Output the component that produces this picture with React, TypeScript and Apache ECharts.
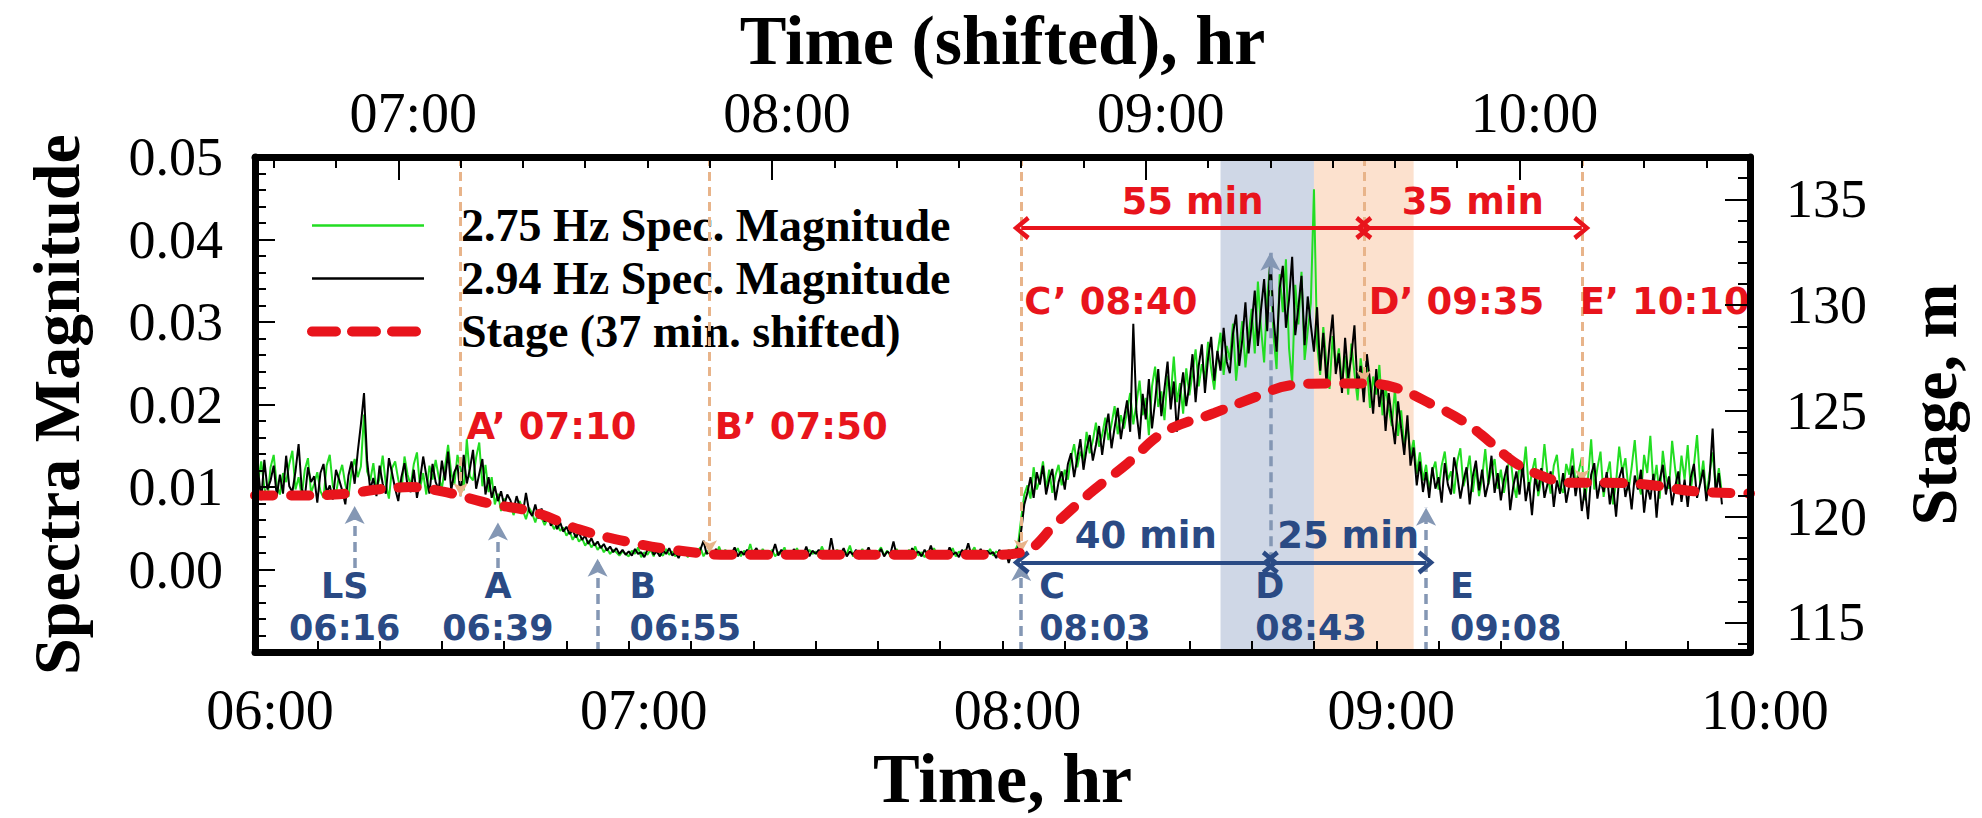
import React, { useEffect, useRef } from 'react';
import * as echarts from 'echarts';

const SERIF = '"Liberation Serif", "Times New Roman", serif';
const SANS = '"DejaVu Sans", "Open Sans", sans-serif';

// Readings are every 30 s starting at 06:00
const SAMPLE_STEP_MIN = 0.5;

// Spectral magnitude of the 2.94 Hz band
const spec294Hz = [
  0.0058, 0.0121, 0.0084, 0.0133, 0.0097, 0.0108, 0.0126, 0.0089, 0.0115, 0.0092, 0.0138, 0.0101, 0.0094, 0.0119, 0.0152, 0.0098, 0.0087, 0.0124, 0.0106, 0.0113,
  0.0081, 0.0117, 0.0128, 0.0093, 0.0102, 0.0085, 0.0121, 0.0109, 0.0096, 0.0079, 0.0114, 0.0131, 0.0104, 0.0143, 0.0176, 0.0214, 0.0132, 0.0097, 0.0111, 0.0089,
  0.0126, 0.0104, 0.0092, 0.0135, 0.0117, 0.0098, 0.0083, 0.0112, 0.0129, 0.0101, 0.0094, 0.0121, 0.0087, 0.0109, 0.0137, 0.0114, 0.0092, 0.0128, 0.0106, 0.0097,
  0.0132, 0.0108, 0.0143, 0.0096, 0.0118, 0.0127, 0.0089, 0.0139, 0.0104, 0.0122, 0.0145, 0.0098, 0.0116, 0.0134, 0.0091, 0.0112, 0.0087, 0.0101, 0.0083, 0.0095,
  0.0078, 0.0091, 0.0084, 0.0072, 0.0089, 0.0076, 0.0068, 0.0093, 0.0071, 0.0065, 0.0079, 0.0062, 0.0074, 0.0058, 0.0067, 0.0053, 0.0061, 0.0049, 0.0057, 0.0046,
  0.0052, 0.0043, 0.0048, 0.0039, 0.0045, 0.0036, 0.0041, 0.0031, 0.0038, 0.0029, 0.0034, 0.0026, 0.0031, 0.0023, 0.0028, 0.0021, 0.0026, 0.0019, 0.0024, 0.0018,
  0.0022, 0.0017, 0.0025, 0.0019, 0.0021, 0.0015, 0.0024, 0.0029, 0.0018, 0.0022, 0.0016, 0.0023, 0.0019, 0.0026, 0.0017, 0.0021, 0.0014, 0.0023, 0.0019, 0.0025,
  0.0018, 0.0021, 0.0016, 0.0024, 0.0035, 0.0019, 0.0022, 0.0017, 0.0025, 0.0018, 0.0021, 0.0015, 0.0023, 0.0019, 0.0027, 0.0016, 0.0022, 0.0018, 0.0024, 0.0017,
  0.0021, 0.0026, 0.0018, 0.0023, 0.0015, 0.0022, 0.0019, 0.0031, 0.0017, 0.0024, 0.0018, 0.0021, 0.0014, 0.0025, 0.0019, 0.0022, 0.0017, 0.0028, 0.0016, 0.0023,
  0.0019, 0.0024, 0.0017, 0.0021, 0.0015, 0.0038, 0.0018, 0.0023, 0.0019, 0.0026, 0.0016, 0.0022, 0.0018, 0.0024, 0.0013, 0.0021, 0.0019, 0.0027, 0.0017, 0.0023,
  0.0018, 0.0025, 0.0016, 0.0022, 0.0019, 0.0034, 0.0017, 0.0023, 0.0018, 0.0021, 0.0015, 0.0026, 0.0019, 0.0022, 0.0016, 0.0024, 0.0018, 0.0029, 0.0017, 0.0022,
  0.0019, 0.0023, 0.0016, 0.0027, 0.0018, 0.0021, 0.0015, 0.0024, 0.0019, 0.0032, 0.0017, 0.0022, 0.0018, 0.0025, 0.0016, 0.0023, 0.0019, 0.0021, 0.0014, 0.0024,
  0.0019, 0.0022, 0.0008, 0.0021, 0.0024, 0.0026, 0.0047, 0.0079, 0.0093, 0.0112, 0.0087, 0.0118, 0.0103, 0.0126, 0.0091, 0.0109, 0.0122, 0.0084, 0.0106, 0.0119,
  0.0097, 0.0128, 0.0141, 0.0112, 0.0135, 0.0158, 0.0121, 0.0146, 0.0163, 0.0132, 0.0151, 0.0174, 0.0139, 0.0168, 0.0189, 0.0147, 0.0172, 0.0196, 0.0158, 0.0183,
  0.0205, 0.0167, 0.0298, 0.0191, 0.0158, 0.0213, 0.0182, 0.0231, 0.0171, 0.0204, 0.0243, 0.0186, 0.0219, 0.0252, 0.0194, 0.0228, 0.0167, 0.0211, 0.0239, 0.0198,
  0.0224, 0.0261, 0.0203, 0.0247, 0.0273, 0.0214, 0.0256, 0.0282, 0.0229, 0.0265, 0.0241, 0.0293, 0.0252, 0.0238, 0.0286, 0.0309, 0.0247, 0.0279, 0.0324, 0.0262,
  0.0297, 0.0338, 0.0271, 0.0315, 0.0352, 0.0289, 0.0382, 0.0306, 0.0264, 0.0341, 0.0368, 0.0293, 0.0327, 0.0379, 0.0284, 0.0318, 0.0356, 0.0272, 0.0331, 0.0296,
  0.0264, 0.0318, 0.0241, 0.0287, 0.0226, 0.0273, 0.0309, 0.0237, 0.0262, 0.0214, 0.0281, 0.0232, 0.0258, 0.0296, 0.0219, 0.0247, 0.0203, 0.0261, 0.0228, 0.0189,
  0.0243, 0.0197, 0.0226, 0.0168, 0.0214, 0.0183, 0.0152, 0.0204, 0.0171, 0.0139, 0.0187, 0.0126, 0.0148, 0.0102, 0.0131, 0.0094, 0.0118, 0.0087, 0.0124, 0.0098,
  0.0112, 0.0081, 0.0129, 0.0103, 0.0091, 0.0136, 0.0115, 0.0086, 0.0108, 0.0124, 0.0079, 0.0113, 0.0132, 0.0096, 0.0121, 0.0088, 0.0105, 0.0138, 0.0093, 0.0117,
  0.0084, 0.0109, 0.0126, 0.0072, 0.0101, 0.0119, 0.0091, 0.0128, 0.0083, 0.0106, 0.0066, 0.0112, 0.0095, 0.0123, 0.0087, 0.0104, 0.0119, 0.0076, 0.0108, 0.0092,
  0.0117, 0.0081, 0.0102, 0.0126, 0.0089, 0.0113, 0.0071, 0.0098, 0.0061, 0.0115, 0.0129, 0.0086, 0.0107, 0.0094, 0.0118, 0.0079, 0.0103, 0.0064, 0.0111, 0.0124,
  0.0088, 0.0106, 0.0073, 0.0114, 0.0097, 0.0121, 0.0069, 0.0102, 0.0085, 0.0116, 0.0063, 0.0108, 0.0127, 0.0091, 0.0113, 0.0078, 0.0101, 0.0119, 0.0082, 0.0109,
  0.0076, 0.0112, 0.0128, 0.0087, 0.0104, 0.0121, 0.0083, 0.0109, 0.0171, 0.0091, 0.0117, 0.0079,
];

// Spectral magnitude of the 2.75 Hz band
const spec275Hz = [
  0.0094, 0.0108, 0.0131, 0.0099, 0.0086, 0.0124, 0.0139, 0.0102, 0.0091, 0.0117, 0.0106, 0.0128, 0.0144, 0.0097, 0.0112, 0.0089, 0.0121, 0.0135, 0.0093, 0.0104,
  0.0118, 0.0095, 0.0087, 0.0126, 0.0139, 0.0101, 0.0092, 0.0114, 0.0127, 0.0103, 0.0088, 0.0119, 0.0134, 0.0112, 0.0125, 0.0188, 0.0119, 0.0108, 0.0129, 0.0097,
  0.0111, 0.0138, 0.0104, 0.0086, 0.0123, 0.0131, 0.0109, 0.0094, 0.0137, 0.0115, 0.0102, 0.0128, 0.0142, 0.0099, 0.0117, 0.0091, 0.0126, 0.0109, 0.0133, 0.0112,
  0.0098, 0.0124, 0.0151, 0.0117, 0.0103, 0.0139, 0.0122, 0.0096, 0.0158, 0.0113, 0.0108, 0.0136, 0.0154, 0.0101, 0.0127, 0.0094, 0.0112, 0.0079, 0.0092, 0.0071,
  0.0086, 0.0074, 0.0081, 0.0066, 0.0077, 0.0083, 0.0072, 0.0061, 0.0075, 0.0068, 0.0057, 0.0071, 0.0063, 0.0054, 0.0062, 0.0058, 0.0049, 0.0055, 0.0047, 0.0051,
  0.0041, 0.0047, 0.0036, 0.0043, 0.0034, 0.0038, 0.0029, 0.0035, 0.0027, 0.0032, 0.0024, 0.0029, 0.0021, 0.0026, 0.0019, 0.0024, 0.0021, 0.0017, 0.0022, 0.0019,
  0.0016, 0.0023, 0.0019, 0.0027, 0.0015, 0.0021, 0.0018, 0.0024, 0.0016, 0.0029, 0.0019, 0.0017, 0.0025, 0.0018, 0.0022, 0.0016, 0.0026, 0.0019, 0.0021, 0.0015,
  0.0024, 0.0018, 0.0022, 0.0027, 0.0016, 0.0023, 0.0019, 0.0021, 0.0015, 0.0028, 0.0018, 0.0024, 0.0017, 0.0021, 0.0019, 0.0026, 0.0016, 0.0023, 0.0018, 0.0031,
  0.0017, 0.0022, 0.0016, 0.0025, 0.0019, 0.0018, 0.0024, 0.0016, 0.0021, 0.0019, 0.0027, 0.0015, 0.0022, 0.0018, 0.0026, 0.0017, 0.0021, 0.0016, 0.0024, 0.0019,
  0.0022, 0.0016, 0.0028, 0.0019, 0.0023, 0.0017, 0.0021, 0.0024, 0.0015, 0.0022, 0.0019, 0.0029, 0.0016, 0.0021, 0.0018, 0.0025, 0.0017, 0.0022, 0.0019, 0.0016,
  0.0021, 0.0027, 0.0017, 0.0023, 0.0016, 0.0019, 0.0025, 0.0018, 0.0022, 0.0016, 0.0024, 0.0019, 0.0028, 0.0017, 0.0021, 0.0015, 0.0023, 0.0019, 0.0026, 0.0018,
  0.0023, 0.0017, 0.0021, 0.0018, 0.0026, 0.0016, 0.0022, 0.0019, 0.0024, 0.0017, 0.0021, 0.0027, 0.0016, 0.0022, 0.0019, 0.0018, 0.0025, 0.0017, 0.0022, 0.0019,
  0.0021, 0.0017, 0.0024, 0.0019, 0.0023, 0.0031, 0.0062, 0.0091, 0.0102, 0.0086, 0.0124, 0.0097, 0.0109, 0.0131, 0.0098, 0.0121, 0.0093, 0.0114, 0.0127, 0.0102,
  0.0121, 0.0109, 0.0136, 0.0152, 0.0124, 0.0143, 0.0132, 0.0167, 0.0141, 0.0156, 0.0178, 0.0149, 0.0163, 0.0184, 0.0157, 0.0176, 0.0198, 0.0164, 0.0187, 0.0171,
  0.0192, 0.0214, 0.0176, 0.0201, 0.0229, 0.0187, 0.0208, 0.0163, 0.0222, 0.0246, 0.0197, 0.0216, 0.0181, 0.0235, 0.0209, 0.0258, 0.0203, 0.0226, 0.0189, 0.0244,
  0.0211, 0.0238, 0.0267, 0.0222, 0.0249, 0.0231, 0.0276, 0.0243, 0.0218, 0.0262, 0.0287, 0.0236, 0.0271, 0.0254, 0.0298, 0.0229, 0.0268, 0.0301, 0.0245, 0.0283,
  0.0316, 0.0262, 0.0349, 0.0293, 0.0251, 0.0332, 0.0371, 0.0284, 0.0243, 0.0358, 0.0312, 0.0376, 0.0268, 0.0226, 0.0345, 0.0297, 0.0361, 0.0254, 0.0289, 0.0323,
  0.0461, 0.0273, 0.0236, 0.0294, 0.0251, 0.0219, 0.0283, 0.0246, 0.0268, 0.0227, 0.0259, 0.0212, 0.0274, 0.0238, 0.0205, 0.0256, 0.0223, 0.0247, 0.0196, 0.0234,
  0.0212, 0.0248, 0.0187, 0.0221, 0.0195, 0.0174, 0.0219, 0.0162, 0.0193, 0.0148, 0.0176, 0.0138, 0.0157, 0.0116, 0.0142, 0.0108, 0.0127, 0.0096, 0.0119, 0.0131,
  0.0097, 0.0126, 0.0143, 0.0108, 0.0119, 0.0092, 0.0131, 0.0147, 0.0101, 0.0116, 0.0138, 0.0094, 0.0124, 0.0089, 0.0112, 0.0146, 0.0103, 0.0121, 0.0134, 0.0098,
  0.0121, 0.0093, 0.0117, 0.0141, 0.0104, 0.0087, 0.0128, 0.0112, 0.0149, 0.0096, 0.0118, 0.0135, 0.0089, 0.0109, 0.0152, 0.0114, 0.0092, 0.0126, 0.0139, 0.0101,
  0.0093, 0.0128, 0.0115, 0.0147, 0.0102, 0.0119, 0.0136, 0.0084, 0.0111, 0.0158, 0.0097, 0.0123, 0.0143, 0.0088, 0.0114, 0.0131, 0.0079, 0.0106, 0.0149, 0.0118,
  0.0135, 0.0096, 0.0124, 0.0157, 0.0108, 0.0091, 0.0139, 0.0117, 0.0162, 0.0101, 0.0127, 0.0086, 0.0144, 0.0113, 0.0098, 0.0156, 0.0121, 0.0094, 0.0138, 0.0109,
  0.0151, 0.0097, 0.0126, 0.0163, 0.0104, 0.0132, 0.0089, 0.0117, 0.0142, 0.0098, 0.0123, 0.0091,
];

// River stage (m), shifted 37 min onto the lower time axis (minutes after 06:00)
const stageMinutes = [
  0, 8, 15, 20, 25, 30, 34, 38, 45, 52,
  60, 68, 76, 90, 105, 118, 123, 129, 134, 140,
  146, 154, 161, 166, 172, 178, 183, 189, 194, 198,
  202, 206, 211, 217, 224, 231, 240,
];
const stageLevels = [
  121.0, 121.0, 121.1, 121.3, 121.4, 121.2, 120.9, 120.6, 120.2, 119.4,
  118.8, 118.4, 118.2, 118.2, 118.2, 118.2, 118.3, 119.8, 121.1, 122.5,
  124.0, 124.9, 125.7, 126.2, 126.3, 126.3, 126.1, 125.3, 124.5, 123.6,
  122.6, 122.0, 121.6, 121.6, 121.5, 121.2, 121.1,
];

const STAGE_SHIFT_MIN = 37;

// Tick labels
const bottomHours = ['06:00', '07:00', '08:00', '09:00', '10:00'];
const topHours = ['07:00', '08:00', '09:00', '10:00'];
const stageTickLabels = [115, 120, 125, 130, 135];

// Seismic events on the lower time axis
const sourceEvents = [
  { tag: 'LS', clock: '06:16' },
  { tag: 'A', clock: '06:39' },
  { tag: 'B', clock: '06:55' },
  { tag: 'C', clock: '08:03' },
  { tag: 'D', clock: '08:43' },
  { tag: 'E', clock: '09:08' },
];
// Matching stage events on the upper (shifted) time axis
const shiftedEvents = [
  { tag: 'A’', clock: '07:10' },
  { tag: 'B’', clock: '07:50' },
  { tag: 'C’', clock: '08:40' },
  { tag: 'D’', clock: '09:35' },
  { tag: 'E’', clock: '10:10' },
];
const sourceSpans = [['C', 'D'], ['D', 'E']];
const shiftedSpans = [['C’', 'D’'], ['D’', 'E’']];

// Highlighted windows on the lower time axis
const bandClocks = [['08:35', '08:50'], ['08:50', '09:06']];

// ---- layout / styling ----
const BAND_COLORS = ['#cfd7e6', '#fce1ce'];
const RED = '#e8141c';
const NAVY = '#2a4a84';
const STEEL = '#8497b4';
const TAN = '#e8b48a';
const GREEN = '#22dd22';
const AXIS_MIN = -0.01;
const AXIS_MAX = 0.05;
const STAGE_MIN = 113.6;
const STAGE_MAX = 137;

const sourceLayout: Record<string, { from: number; to: number; align: string; dx: number }> = {
  LS: { from: 0.0002, to: 0.0077, align: 'center', dx: -10 },
  A: { from: 0.0002, to: 0.0057, align: 'center', dx: 0 },
  B: { from: AXIS_MIN, to: 0.0013, align: 'left', dx: 32 },
  C: { from: AXIS_MIN, to: 0.0008, align: 'left', dx: 18 },
  D: { from: 0.0009, to: 0.0384, align: 'left', dx: -15 },
  E: { from: AXIS_MIN, to: 0.0075, align: 'left', dx: 24 },
};
const shiftedLayout: Record<string, { y: number; dx: number }> = {
  'A’': { y: 0.0174, dx: 6 },
  'B’': { y: 0.0174, dx: 5 },
  'C’': { y: 0.0325, dx: 3 },
  'D’': { y: 0.0325, dx: 5 },
  'E’': { y: 0.0325, dx: -2 },
};
const SOURCE_LABEL_Y = -0.0045;
const SOURCE_SPAN_Y = 0.00087;
const SHIFTED_SPAN_Y = 0.0414;

const CHEVRON = 'path://M50,0L100,62L84,74L50,30L16,74L0,62Z';

const toMin = (clock: string) => {
  const [h, m] = clock.split(':').map(Number);
  return h * 60 + m - 360;
};
const fmtClock = (m: number) => {
  const total = Math.round(m) + 360;
  const h = Math.floor(total / 60);
  const mm = total % 60;
  return `${String(h).padStart(2, '0')}:${String(mm).padStart(2, '0')}`;
};
const stageAt = (t: number) => {
  for (let i = 1; i < stageMinutes.length; i++) {
    if (t <= stageMinutes[i]) {
      const t0 = stageMinutes[i - 1];
      const t1 = stageMinutes[i];
      const f = (t - t0) / (t1 - t0);
      return stageLevels[i - 1] + f * (stageLevels[i] - stageLevels[i - 1]);
    }
  }
  return stageLevels[stageLevels.length - 1];
};

const sourceMin = (tag: string) => toMin(sourceEvents.find((e) => e.tag === tag)!.clock);
const shiftedMin = (tag: string) => toMin(shiftedEvents.find((e) => e.tag === tag)!.clock);

const range = (a: number, b: number, step: number) => {
  const out: number[] = [];
  for (let v = a; v <= b + 1e-9; v += step) out.push(v);
  return out;
};

const noteFont = { fontFamily: SANS, fontWeight: 'bold' as const, fontSize: 37, opacity: 1 };

function buildOption() {
  const hourTop = topHours.map((c) => toMin(c));

  const bands = bandClocks.map(([a, b], i) => [
    { xAxis: toMin(a), itemStyle: { color: BAND_COLORS[i] } },
    { xAxis: toMin(b) },
  ]);

  // dashed tan drop lines from the top frame down to the stage curve
  const dropLines = shiftedEvents.map((e) => {
    const t = toMin(e.clock) - STAGE_SHIFT_MIN;
    return [
      { coord: [t, STAGE_MAX], symbol: 'none', lineStyle: { color: TAN, width: 3, type: [9, 6] } },
      { coord: [t, stageAt(t)], symbol: 'arrow', symbolSize: [11, 13] },
    ];
  });

  const riseArrows = sourceEvents.map((e) => {
    const t = toMin(e.clock);
    const l = sourceLayout[e.tag];
    return [
      { coord: [t, l.from], symbol: 'none', lineStyle: { color: STEEL, width: 3.5, type: [10, 6] } },
      { coord: [t, l.to], symbol: 'arrow', symbolSize: [15, 18] },
    ];
  });

  const spanArrow = (a: number, b: number, y: number, color: string) => [
    {
      coord: [a, y],
      symbol: CHEVRON,
      symbolSize: [24, 17],
      lineStyle: { color, width: 4, type: 'solid' },
      label: {
        show: true,
        position: 'insideMiddleTop',
        distance: 8,
        formatter: `${b - a} min`,
        color,
        ...noteFont,
      },
    },
    { coord: [b, y], symbol: CHEVRON, symbolSize: [24, 17] },
  ];

  const redSpans = shiftedSpans.map(([a, b]) =>
    spanArrow(shiftedMin(a) - STAGE_SHIFT_MIN, shiftedMin(b) - STAGE_SHIFT_MIN, SHIFTED_SPAN_Y, RED),
  );
  const blueSpans = sourceSpans.map(([a, b]) => spanArrow(sourceMin(a), sourceMin(b), SOURCE_SPAN_Y, NAVY));

  const notePoints = [
    ...sourceEvents.map((e) => {
      const l = sourceLayout[e.tag];
      return {
        value: [toMin(e.clock), SOURCE_LABEL_Y],
        label: {
          show: true,
          position: 'inside',
          align: l.align,
          verticalAlign: 'middle',
          offset: [l.dx, 0],
          formatter: `${e.tag}\n${e.clock}`,
          color: NAVY,
          ...noteFont,
          fontSize: 35,
          lineHeight: 42,
        },
      };
    }),
    ...shiftedEvents.map((e) => {
      const l = shiftedLayout[e.tag];
      return {
        value: [toMin(e.clock) - STAGE_SHIFT_MIN, l.y],
        label: {
          show: true,
          position: 'inside',
          align: 'left',
          verticalAlign: 'middle',
          offset: [l.dx, 0],
          formatter: `${e.tag} ${e.clock}`,
          color: RED,
          ...noteFont,
        },
      };
    }),
  ];

  const axisLineStyle = { show: true, onZero: false, lineStyle: { color: '#000', width: 7 } };
  const tickStyle = { color: '#000', width: 2 };
  const tickLabel = { fontFamily: SERIF, color: '#000' };
  const nameStyle = { fontFamily: SERIF, fontWeight: 'bold' as const, fontSize: 70, color: '#000' };
  const hiddenSymbol = { opacity: 0 };

  return {
    animation: false,
    backgroundColor: '#fff',
    grid: { left: 255, right: 232, top: 155, bottom: 154, containLabel: false },
    legend: {
      data: [
        { name: '2.75 Hz Spec. Magnitude', itemStyle: hiddenSymbol, lineStyle: { color: GREEN, width: 2.5 } },
        { name: '2.94 Hz Spec. Magnitude', itemStyle: hiddenSymbol, lineStyle: { color: '#000', width: 2.5 } },
        {
          name: 'Stage (37 min. shifted)',
          itemStyle: hiddenSymbol,
          lineStyle: { color: RED, width: 10, type: [24, 16], cap: 'round' },
        },
      ],
      orient: 'vertical',
      left: 302,
      top: 197,
      itemWidth: 112,
      itemHeight: 12,
      itemGap: 6,
      selectedMode: false,
      textStyle: {
        fontFamily: SERIF,
        fontWeight: 'bold',
        fontSize: 46,
        lineHeight: 47,
        color: '#000',
        padding: [0, 0, 0, 32],
      },
    },
    xAxis: [
      {
        type: 'value',
        position: 'bottom',
        min: 0,
        max: 240,
        interval: 10,
        z: 10,
        axisLine: axisLineStyle,
        axisTick: { show: true, inside: true, length: 11, lineStyle: tickStyle },
        axisLabel: {
          ...tickLabel,
          fontSize: 56,
          margin: 30,
          padding: [0, 0, 0, 30],
          customValues: bottomHours.map(toMin),
          formatter: (v: number) => fmtClock(v),
        },
        splitLine: { show: false },
        name: 'Time, hr',
        nameLocation: 'middle',
        nameGap: 84,
        nameTextStyle: nameStyle,
      },
      {
        type: 'value',
        position: 'top',
        min: STAGE_SHIFT_MIN,
        max: 240 + STAGE_SHIFT_MIN,
        z: 10,
        axisLine: axisLineStyle,
        axisTick: {
          show: true,
          inside: true,
          length: 11,
          lineStyle: tickStyle,
          customValues: range(40, 270, 10),
        },
        axisLabel: {
          ...tickLabel,
          fontSize: 56,
          margin: 16,
          padding: [0, 0, 0, 30],
          customValues: hourTop,
          formatter: (v: number) => fmtClock(v),
        },
        splitLine: { show: false },
        name: 'Time (shifted), hr',
        nameLocation: 'middle',
        nameGap: 82,
        nameTextStyle: nameStyle,
      },
      {
        type: 'value',
        position: 'top',
        min: STAGE_SHIFT_MIN,
        max: 240 + STAGE_SHIFT_MIN,
        z: 10,
        axisLine: { show: false, onZero: false },
        axisTick: { show: true, inside: true, length: 23, lineStyle: tickStyle, customValues: hourTop },
        axisLabel: { show: false },
        splitLine: { show: false },
      },
    ],
    yAxis: [
      {
        type: 'value',
        position: 'left',
        min: AXIS_MIN,
        max: AXIS_MAX,
        interval: 0.01,
        z: 10,
        axisLine: axisLineStyle,
        axisTick: { show: true, inside: true, length: 20, lineStyle: tickStyle },
        minorTick: { show: true, splitNumber: 5, length: 11, lineStyle: tickStyle },
        axisLabel: {
          ...tickLabel,
          fontSize: 54,
          margin: 32,
          formatter: (v: number) => (v < -0.005 ? '' : v.toFixed(2)),
        },
        splitLine: { show: false },
        minorSplitLine: { show: false },
        name: 'Spectra Magnitude',
        nameLocation: 'middle',
        nameGap: 166,
        nameTextStyle: { ...nameStyle, fontSize: 66 },
      },
      {
        type: 'value',
        position: 'right',
        min: STAGE_MIN,
        max: STAGE_MAX,
        z: 10,
        axisLine: axisLineStyle,
        axisTick: {
          show: true,
          inside: true,
          length: 12,
          lineStyle: tickStyle,
          customValues: range(114, 136, 1),
        },
        axisLabel: { ...tickLabel, fontSize: 54, margin: 36, customValues: stageTickLabels },
        splitLine: { show: false },
        name: 'Stage, m',
        nameLocation: 'middle',
        nameGap: 150,
        nameTextStyle: { ...nameStyle, fontSize: 66 },
      },
      {
        type: 'value',
        position: 'right',
        min: STAGE_MIN,
        max: STAGE_MAX,
        z: 10,
        axisLine: { show: false, onZero: false },
        axisTick: { show: true, inside: true, length: 25, lineStyle: tickStyle, customValues: stageTickLabels },
        axisLabel: { show: false },
        splitLine: { show: false },
      },
    ],
    series: [
      {
        name: '2.75 Hz Spec. Magnitude',
        type: 'line',
        xAxisIndex: 0,
        yAxisIndex: 0,
        data: spec275Hz.map((v, i) => [i * SAMPLE_STEP_MIN, v]),
        symbol: 'none',
        z: 2,
        lineStyle: { color: GREEN, width: 2 },
        itemStyle: { color: GREEN },
        markArea: { silent: true, z: 1, data: bands },
      },
      {
        name: '2.94 Hz Spec. Magnitude',
        type: 'line',
        xAxisIndex: 0,
        yAxisIndex: 0,
        data: spec294Hz.map((v, i) => [i * SAMPLE_STEP_MIN, v]),
        symbol: 'none',
        z: 3,
        lineStyle: { color: '#000', width: 2 },
        itemStyle: { color: '#000' },
      },
      {
        name: 'Stage (37 min. shifted)',
        type: 'line',
        xAxisIndex: 0,
        yAxisIndex: 1,
        data: stageMinutes.map((t, i) => [t, stageLevels[i]]),
        smooth: 0.4,
        symbol: 'none',
        z: 5,
        lineStyle: { color: RED, width: 10, type: [18, 18], cap: 'round' },
        itemStyle: { color: RED },
        markLine: {
          silent: true,
          symbol: ['none', 'arrow'],
          label: { show: false },
          lineStyle: { color: TAN, width: 3, type: [9, 6] },
          itemStyle: { color: TAN },
          data: dropLines,
        },
      },
      {
        name: 'notes',
        type: 'scatter',
        xAxisIndex: 0,
        yAxisIndex: 0,
        symbolSize: 1,
        z: 6,
        itemStyle: { color: 'transparent', opacity: 1 },
        data: notePoints,
        markLine: {
          silent: true,
          label: { show: false },
          data: [...riseArrows, ...redSpans, ...blueSpans],
        },
      },
    ],
  };
}

export default function App() {
  const ref = useRef<HTMLDivElement>(null);
  useEffect(() => {
    if (!ref.current) return;
    const chart = echarts.init(ref.current, null, { renderer: 'svg' });
    chart.setOption(buildOption() as any);
    return () => chart.dispose();
  }, []);
  return (
    <div
      ref={ref}
      style={{ position: 'absolute', left: 0, top: 0, width: 1982, height: 818, background: '#fff' }}
    />
  );
}
